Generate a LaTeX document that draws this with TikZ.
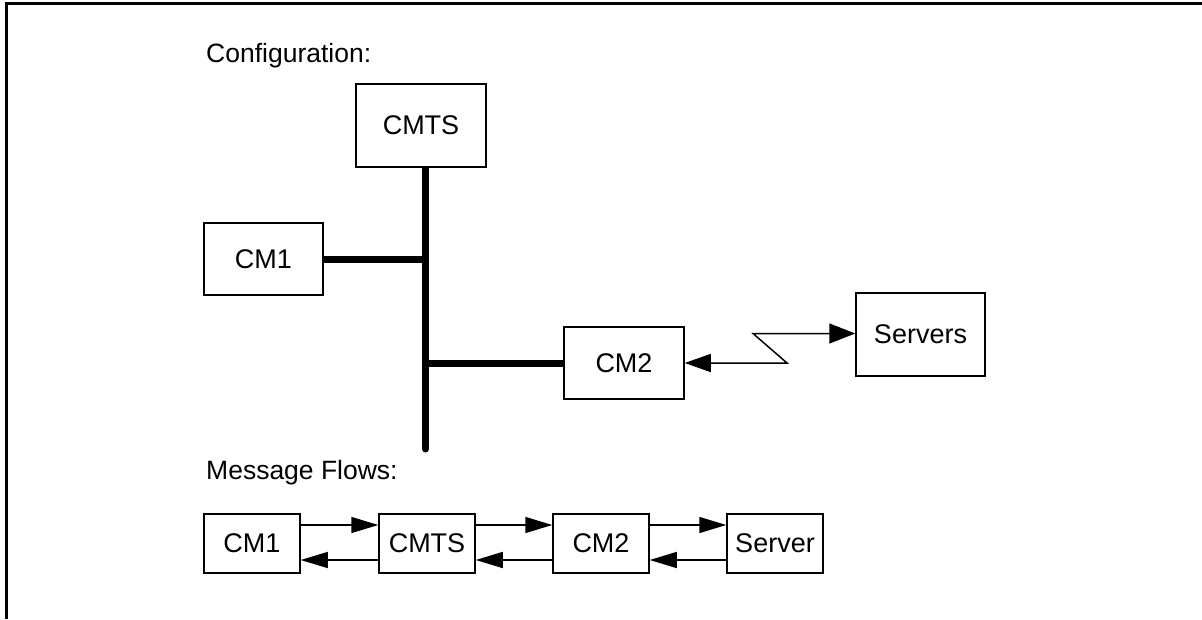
\documentclass[tikz,border=0pt]{standalone}
\usepackage{fontspec}
\setmainfont{Liberation Sans}
\usetikzlibrary{arrows.meta}
\begin{document}
\begin{tikzpicture}[x=1pt,y=-1pt,
  box/.style={draw,line width=1.5pt,inner sep=0pt,font=\fontsize{27}{32}\selectfont},
  bigbox/.style={box,minimum width=130pt,minimum height=83pt},
  midbox/.style={box,minimum width=120pt,minimum height=72pt},
  flowbox/.style={box,minimum width=96pt,minimum height=59pt},
  lbl/.style={anchor=base west,inner sep=0pt,font=\fontsize{26.5}{32}\selectfont},
  bus/.style={line width=7pt},
  flow/.style={line width=1.5pt,-{Triangle[length=27pt,width=16pt]}},
  frame/.style={line width=3pt}]
\useasboundingbox (0,0) rectangle (1202,619);
% frame
\coordinate (fa) at (6,619);
\coordinate (fb) at (6,3);
\coordinate (fc) at (1202,3);
\draw[frame] (fa) -- (fb) -- (fc);
% labels
\node[lbl] (conf) at (206,62) {Configuration:};
\node[lbl] (msg) at (206,479) {Message Flows:};
% configuration
\node[bigbox] (cmts) at (421,125.5) {CMTS};
\node[midbox,minimum width=119pt] (cm1) at (263.5,259) {CM1};
\node[midbox] (cm2) at (624,363) {CM2};
\node[bigbox,minimum width=129pt] (srv) at (920.5,334.5) {Servers};
\coordinate (bt) at (425.5,167);
\coordinate (bb) at (425.5,449);
\coordinate (j1) at (425.5,259);
\coordinate (j2) at (425.5,363);
\draw[bus] (bt) -- (bb);
\draw[bus,line cap=round] (j1) -- (bb);
\draw[bus] (cm1.east) -- (j1);
\draw[bus] (j2) -- (cm2.west);
\coordinate (z1) at (787,363);
\coordinate (z2) at (753,333.5);
\draw[line width=1.5pt,{Triangle[length=26pt,width=18pt]}-{Triangle[length=26pt,width=20pt]}]
  (cm2.east) -- (z1) -- (z2) -- (srv.west |- z2);
% message flows
\node[flowbox] (f1) at (252,543.5) {CM1};
\node[flowbox] (f2) at (427,543.5) {CMTS};
\node[flowbox] (f3) at (601,543.5) {CM2};
\node[flowbox] (f4) at (775,543.5) {Server};
\foreach \a/\b in {f1/f2,f2/f3,f3/f4}{
  \draw[flow] ([yshift=18.5pt]\a.east) -- ([yshift=18.5pt]\b.west);
  \draw[flow] ([yshift=-16.5pt]\b.west) -- ([yshift=-16.5pt]\a.east);
}
\end{tikzpicture}
\end{document}
